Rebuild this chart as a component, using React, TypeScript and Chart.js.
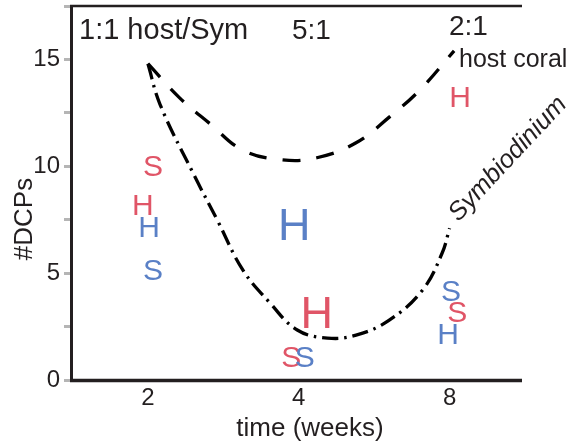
import React, { useEffect, useRef } from 'react';
import { Chart, registerables } from 'chart.js';

Chart.register(...registerables);

// ---- data ----
const weekLabels = ['2', '4', '8'];
const yTickLabels = [0, 5, 10, 15];

// fitted curves (x = position on the weeks axis: 0 -> 2 wk, 1 -> 4 wk, 2 -> 8 wk)
const hostCurveX = [0, 0.21, 0.41, 0.63, 0.89, 1.12, 1.38, 1.6, 1.8, 2.03];
const hostCurveY = [14.8, 13.2, 12.0, 10.75, 10.3, 10.4, 11.1, 12.3, 13.55, 15.4];
const symCurveX = [0, 0.08, 0.3, 0.46, 0.63, 0.81, 0.99, 1.19, 1.38, 1.6, 1.82, 1.95, 2.0];
const symCurveY = [14.8, 12.9, 9.67, 7.48, 5.14, 3.6, 2.34, 1.96, 2.1, 2.8, 4.2, 5.93, 7.1];

// letter marks: H = host, S = Symbiodinium; series red / blue
const markLetter = ['S', 'H', 'H', 'S', 'H', 'H', 'S', 'S', 'H', 'S', 'S', 'H'];
const markSeries = ['red', 'red', 'blue', 'blue', 'blue', 'red', 'red', 'blue', 'red', 'blue', 'red', 'blue'];
const markX = [0.033, -0.033, 0.007, 0.033, 0.97, 1.12, 0.95, 1.04, 2.07, 2.01, 2.05, 1.99];
const markY = [10.05, 8.2, 7.2, 5.2, 7.3, 3.2, 1.1, 1.1, 13.3, 4.2, 3.2, 2.2];
const markEmphasis = [0, 0, 0, 0, 1, 1, 0, 0, 0, 0, 0, 0];

const ratioLabels = ['1:1 host/Sym', '5:1', '2:1'];

// ---- styles ----
const FONT = '"Liberation Sans", Arial, Helvetica, sans-serif';
const INK = '#231f20';
const SERIES_COLOR: Record<string, string> = { red: '#e05567', blue: '#5a80c6' };

const annotationPlugin = {
  id: 'annotations',
  afterDraw(chart: any) {
    const ctx = chart.ctx as CanvasRenderingContext2D;
    const area = chart.chartArea;
    ctx.save();
    // keep the right side open (no right spine)
    ctx.fillStyle = '#fff';
    ctx.fillRect(area.right - 3, 0, 10, area.bottom - 3);

    // spines: left, bottom, top
    ctx.strokeStyle = INK;
    ctx.lineCap = 'butt';
    ctx.lineWidth = 3;
    ctx.beginPath();
    ctx.moveTo(area.left + 0.5, area.top - 1);
    ctx.lineTo(area.left + 0.5, area.bottom + 2);
    ctx.stroke();
    ctx.lineWidth = 3.5;
    ctx.beginPath();
    ctx.moveTo(area.left - 1, area.bottom + 0.5);
    ctx.lineTo(area.right, area.bottom + 0.5);
    ctx.stroke();
    ctx.lineWidth = 2.5;
    ctx.beginPath();
    ctx.moveTo(area.left - 1, area.top);
    ctx.lineTo(area.right, area.top);
    ctx.stroke();

    // letter marks from dataset
    const meta = chart.getDatasetMeta(2);
    meta.data.forEach((el: any, i: number) => {
      const size = markEmphasis[i] ? 45 : 30;
      ctx.font = `${size}px ${FONT}`;
      ctx.fillStyle = SERIES_COLOR[markSeries[i]];
      ctx.textAlign = 'center';
      ctx.textBaseline = 'alphabetic';
      ctx.fillText(markLetter[i], el.x, el.y + (size * 0.716) / 2);
    });

    ctx.fillStyle = INK;
    ctx.textBaseline = 'alphabetic';
    ctx.textAlign = 'left';
    ctx.font = `29px ${FONT}`;
    ctx.fillText(ratioLabels[0], 79, 39);
    ctx.font = `28px ${FONT}`;
    ctx.fillText(ratioLabels[1], 292, 39);
    ctx.fillText(ratioLabels[2], 449, 35);

    ctx.font = `25px ${FONT}`;
    ctx.fillText('host coral', 459, 67);

    ctx.save();
    ctx.translate(508, 159);
    ctx.rotate((-47 * Math.PI) / 180);
    ctx.font = `italic 25.5px ${FONT}`;
    ctx.textAlign = 'center';
    ctx.textBaseline = 'middle';
    ctx.fillText('Symbiodinium', 0, 0);
    ctx.restore();

    // axis titles
    ctx.save();
    ctx.translate(25, 219);
    ctx.rotate(-Math.PI / 2);
    ctx.font = `26px ${FONT}`;
    ctx.textAlign = 'center';
    ctx.textBaseline = 'middle';
    ctx.fillText('#DCPs', 0, 0);
    ctx.restore();

    ctx.font = `26px ${FONT}`;
    ctx.textAlign = 'center';
    ctx.textBaseline = 'middle';
    ctx.fillText('time (weeks)', 310, 429);

    ctx.restore();
  },
};

export default function App() {
  const ref = useRef<HTMLCanvasElement | null>(null);
  useEffect(() => {
    if (!ref.current) return;
    const chart = new Chart(ref.current, {
      type: 'line',
      data: {
        datasets: [
          {
            label: 'host coral',
            data: hostCurveX.map((x, i) => ({ x, y: hostCurveY[i] })),
            borderColor: '#000',
            borderWidth: 3.3,
            borderDash: [18, 16],
            pointRadius: 0,
            tension: 0.4,
            fill: false,
          },
          {
            label: 'Symbiodinium',
            data: symCurveX.map((x, i) => ({ x, y: symCurveY[i] })),
            borderColor: '#000',
            borderWidth: 3.3,
            borderDash: [16, 6, 2.5, 6],
            pointRadius: 0,
            tension: 0.4,
            fill: false,
          },
          {
            type: 'scatter',
            label: 'marks',
            data: markX.map((x, i) => ({ x, y: markY[i] })),
            pointRadius: 0,
            showLine: false,
          } as any,
        ],
      },
      options: {
        animation: false,
        responsive: false,
        devicePixelRatio: 1,
        layout: { padding: { top: 6, right: 54, left: 0, bottom: 0 } },
        plugins: { legend: { display: false }, tooltip: { enabled: false } },
        scales: {
          x: {
            type: 'linear',
            min: -0.51,
            max: 2.48,
            afterBuildTicks: (s: any) => {
              s.ticks = weekLabels.map((_, i) => ({ value: i }));
            },
            afterFit: (s: any) => {
              s.height = 65;
              s.paddingLeft = 0;
              s.paddingRight = 0;
            },
            ticks: {
              callback: (v: any) => weekLabels[v] ?? '',
              font: { size: 24, family: FONT },
              color: INK,
              padding: 4,
              maxRotation: 0,
              autoSkip: false,
            },
            grid: { display: false, drawTicks: false, tickLength: 0 },
            border: { display: false },
          },
          y: {
            type: 'linear',
            min: 0,
            max: 17.5,
            afterFit: (s: any) => {
              s.width = 71;
              s.paddingTop = 0;
              s.paddingBottom = 0;
            },
            ticks: {
              stepSize: 2.5,
              callback: (v: any) => (yTickLabels.includes(v) ? String(v) : ''),
              font: { size: 24, family: FONT },
              color: INK,
              padding: 4,
            },
            grid: {
              display: true,
              drawOnChartArea: false,
              drawTicks: true,
              tickLength: 7,
              tickColor: '#b5b5b5',
              tickWidth: 3,
            },
            border: { display: false },
          },
        },
      } as any,
      plugins: [annotationPlugin],
    });
    return () => chart.destroy();
  }, []);

  return (
    <div style={{ position: 'fixed', left: 0, top: 0, width: 576, height: 445, background: '#fff' }}>
      <canvas ref={ref} width={576} height={445} style={{ display: 'block' }} />
    </div>
  );
}
